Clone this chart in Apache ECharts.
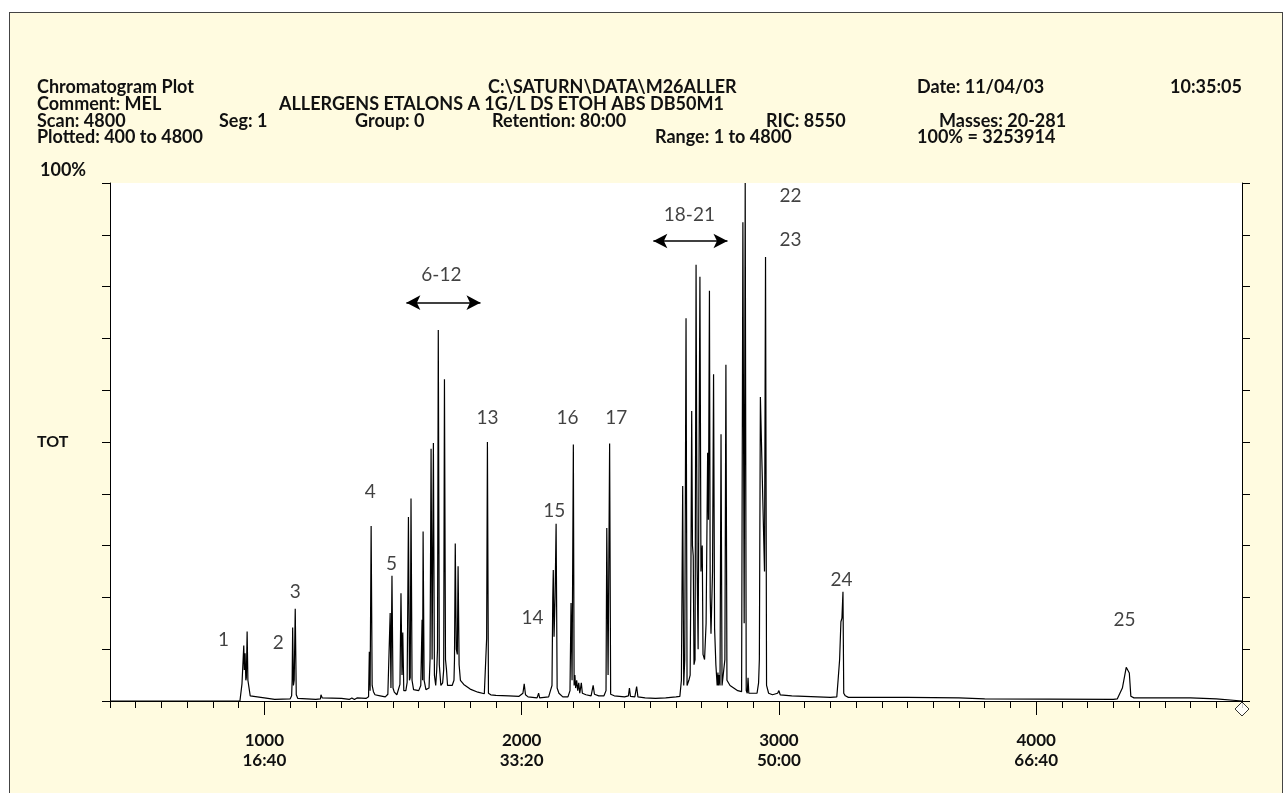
<!DOCTYPE html>
<html>
<head>
<meta charset="utf-8">
<script src="https://cdn.jsdelivr.net/npm/echarts@6/dist/echarts.min.js"></script>
<style>
  html, body { margin: 0; padding: 0; background: #ffffff; }
  #frame { position: absolute; left: 9px; top: 12px; width: 1272px; height: 800px;
           border: 1px solid #444; background: #fffbe0; }
  #chart { position: absolute; left: 0; top: 0; width: 1284px; height: 793px; }
</style>
</head>
<body>
<div id="frame"></div>
<div id="chart"></div>
<script>
// ---- Data (scan number vs. % of total ion current) ----
const scans = [400, 905, 912, 913, 918, 920, 922, 925, 928, 930, 933, 936, 941, 945, 950, 1000, 1040, 1100, 1106, 1108, 1110, 1113, 1116, 1120, 1124, 1130, 1200, 1218, 1220, 1225, 1300, 1330, 1340, 1350, 1360, 1395, 1405, 1408, 1411, 1415, 1419, 1424, 1430, 1450, 1470, 1480, 1487, 1489, 1492, 1496, 1500, 1505, 1515, 1522, 1527, 1531, 1535, 1538, 1542, 1550, 1555, 1560, 1564, 1567, 1570, 1574, 1580, 1600, 1608, 1613, 1615, 1617, 1621, 1628, 1640, 1644, 1648, 1652, 1655, 1657, 1661, 1666, 1670, 1673, 1676, 1680, 1686, 1693, 1697, 1700, 1704, 1708, 1712, 1730, 1737, 1739, 1742, 1746, 1750, 1753, 1757, 1762, 1775, 1800, 1830, 1855, 1862, 1864, 1867, 1871, 1880, 1900, 1950, 1990, 2005, 2010, 2015, 2025, 2060, 2066, 2070, 2105, 2112, 2118, 2121, 2123, 2126, 2130, 2134, 2138, 2145, 2160, 2180, 2188, 2192, 2196, 2201, 2204, 2207, 2210, 2214, 2218, 2222, 2226, 2232, 2236, 2250, 2270, 2278, 2283, 2300, 2320, 2328, 2331, 2336, 2342, 2346, 2360, 2400, 2415, 2419, 2423, 2440, 2447, 2452, 2480, 2520, 2560, 2600, 2615, 2621, 2626, 2630, 2634, 2639, 2643, 2650, 2655, 2658, 2661, 2664, 2667, 2670, 2674, 2678, 2682, 2686, 2693, 2697, 2702, 2705, 2711, 2717, 2723, 2726, 2730, 2733, 2736, 2742, 2746, 2750, 2755, 2760, 2763, 2765, 2768, 2771, 2775, 2779, 2786, 2790, 2794, 2798, 2810, 2840, 2855, 2860, 2865, 2869, 2873, 2877, 2880, 2883, 2888, 2892, 2915, 2921, 2924, 2928, 2944, 2948, 2952, 2960, 2975, 2995, 3000, 3005, 3050, 3100, 3150, 3200, 3225, 3230, 3236, 3241, 3245, 3249, 3252, 3258, 3270, 3500, 3700, 3800, 4300, 4315, 4335, 4350, 4362, 4368, 4380, 4600, 4700, 4800];
const tic = [0, 0, 0.3, 3.3, 3.6, 10.7, 6, 9.2, 4, 4.5, 13.4, 4, 3.8, 1, 0.7, 0.6, 0.3, 0.4, 1.0, 4, 14.2, 3, 4, 17.8, 1.2, 0.5, 0.3, 0.4, 1.2, 0.6, 0.5, 0.3, 0.6, 0.3, 0.6, 0.5, 0.8, 9.5, 2, 33.8, 3, 1.8, 1.2, 1.0, 0.8, 1.3, 1.5, 17, 2.5, 24.2, 2.5, 1.7, 1.2, 1.5, 3.2, 20.8, 5, 13.2, 2, 2, 3.6, 35.5, 4, 4.5, 39.1, 4, 2.2, 2.0, 3, 15.7, 4, 32.7, 4, 2.2, 2.5, 8, 48.7, 8, 8, 49.8, 5, 3, 6, 10, 71.6, 7, 3, 3.5, 6, 62.1, 8, 6, 3, 3, 4, 8, 30.4, 10, 9, 26, 7, 4, 3.2, 2.3, 1.7, 1.4, 1.5, 12.1, 50, 1.5, 1.2, 1.1, 1.0, 0.9, 1.5, 3.3, 1.2, 0.8, 0.6, 1.5, 0.6, 0.8, 2.0, 3, 20, 25.3, 12.4, 20, 34.2, 2.5, 1.5, 0.8, 0.8, 2, 18.9, 4, 49.5, 3, 5, 2.5, 4, 2, 3.5, 1.5, 3.5, 1.5, 1.2, 1, 3, 1.3, 1.0, 1.0, 2, 33.4, 5, 49.7, 1.3, 1.0, 0.8, 1, 2.5, 0.9, 0.8, 2.8, 0.8, 0.6, 0.5, 0.6, 0.8, 0.9, 4, 41.5, 3, 8, 73.9, 3, 4, 5, 25, 56, 30, 28, 7, 8, 84.2, 26, 10, 81.9, 25, 30, 9, 8, 15, 47.9, 35, 79.2, 20, 13, 25, 63.1, 14, 7, 3, 5.5, 3, 5, 3, 51.5, 3, 3, 8, 64.9, 4, 3, 2, 1.8, 92.4, 15, 100, 2, 1.5, 4.5, 1.5, 1.8, 1.5, 1.5, 3.5, 8, 58.7, 25, 85.7, 3, 1.5, 1.2, 1.5, 2, 1.2, 1.0, 0.9, 0.8, 0.7, 0.8, 4, 8, 15.3, 16, 21.1, 1.5, 1, 0.7, 0.7, 0.6, 0.4, 0.3, 0.4, 2.5, 6.5, 5.4, 0.9, 0.6, 0.6, 0.4, 0];

// Peak labels
const peakText = ['1', '2', '3', '4', '5', '6-12', '13', '14', '15', '16', '17', '18-21', '22', '23', '24', '25'];
const peakScan = [841, 1054, 1120, 1412, 1494, 1688, 1867, 2042, 2127, 2178, 2368, 2652, 3045, 3045, 3243, 4343];
const peakPct  = [11.8, 11.2, 21.1, 40.4, 26.5, 82.2, 54.7, 16.1, 36.8, 54.7, 54.7, 93.8, 97.5, 89.0, 23.4, 15.7];

// Group arrows [startScan, endScan, pct]
const arrowStart = [1552, 2512];
const arrowEnd   = [1840, 2800];
const arrowPct   = [76.9, 88.8];

// X axis labels
const xMajor = [1000, 2000, 3000, 4000];
const xTimes = ['16:40', '33:20', '50:00', '66:40'];

// Header texts
const header = [
  ['Chromatogram Plot', 37, 87], ['C:\\SATURN\\DATA\\M26ALLER', 488, 87], ['Date: 11/04/03', 917, 87], ['10:35:05', 1170, 87],
  ['Comment: MEL', 37, 104], ['ALLERGENS ETALONS A 1G/L DS ETOH ABS DB50M1', 279, 104],
  ['Scan: 4800', 37, 121], ['Seg: 1', 219, 121], ['Group: 0', 355, 121], ['Retention: 80:00', 492, 121], ['RIC: 8550', 766, 121], ['Masses: 20-281', 939, 121],
  ['Plotted: 400 to 4800', 37, 137], ['Range: 1 to 4800', 655, 137], ['100% = 3253914', 917, 137],
  ['100%', 40, 170]
];

const FONT = 'Lato, "Open Sans", sans-serif';
const chart = echarts.init(document.getElementById('chart'));
const trace = scans.map((s, i) => [s, tic[i]]);

chart.setOption({
  animation: false,
  backgroundColor: 'transparent',
  textStyle: { fontFamily: FONT },
  grid: { left: 110, right: 42, top: 183, bottom: 92, show: true, backgroundColor: '#ffffff', borderWidth: 0 },
  xAxis: [
    { type: 'value', min: 400, max: 4800, interval: 100,
      axisLine: { show: true, lineStyle: { color: '#000', width: 1 } },
      axisTick: { show: true, length: 7, lineStyle: { color: '#000', width: 1 } },
      axisLabel: { show: false }, splitLine: { show: false } },
    { type: 'value', min: 400, max: 4800, position: 'bottom', gridIndex: 0,
      axisLine: { show: false },
      axisTick: { show: true, length: 14, customValues: xMajor, lineStyle: { color: '#000', width: 1 } },
      axisLabel: { show: true, customValues: xMajor, margin: 30, fontSize: 17, fontWeight: 'bold', color: '#111',
        lineHeight: 20, fontFamily: FONT,
        formatter: v => v + '\n' + xTimes[xMajor.indexOf(v)] },
      splitLine: { show: false } }
  ],
  yAxis: [
    { type: 'value', min: 0, max: 100, interval: 10, position: 'left',
      axisLine: { show: true, lineStyle: { color: '#000', width: 1 } },
      axisTick: { show: true, length: 8, lineStyle: { color: '#000', width: 1 } },
      axisLabel: { show: true, margin: 73, align: 'left', fontSize: 16, fontWeight: 'bold', color: '#111', fontFamily: FONT,
        formatter: v => (v === 50 ? 'TOT' : '') },
      splitLine: { show: false } },
    { type: 'value', min: 0, max: 100, interval: 10, position: 'right',
      axisLine: { show: true, lineStyle: { color: '#000', width: 1 } },
      axisTick: { show: true, length: 8, lineStyle: { color: '#000', width: 1 } },
      axisLabel: { show: false }, splitLine: { show: false } }
  ],
  series: [
    { type: 'line', xAxisIndex: 0, yAxisIndex: 0, data: trace, showSymbol: false, symbol: 'none',
      lineStyle: { color: '#000', width: 1.2 }, sampling: false, silent: true, z: 3 },
    { type: 'scatter', xAxisIndex: 0, yAxisIndex: 0, symbolSize: 1, silent: true,
      itemStyle: { color: 'rgba(0,0,0,0)' },
      data: peakText.map((t, i) => ({ name: t, value: [peakScan[i], peakPct[i]] })),
      label: { show: true, position: 'inside', formatter: p => p.name, fontSize: 19, color: '#111', fontFamily: FONT },
      markLine: { silent: true, symbol: ['arrow', 'arrow'], symbolSize: [11, 14],
        lineStyle: { color: '#000', width: 1.5, type: 'solid' }, label: { show: false },
        data: arrowStart.map((s, i) => [{ coord: [s, arrowPct[i]] }, { coord: [arrowEnd[i], arrowPct[i]] }]) },
      z: 4 },
    { type: 'scatter', xAxisIndex: 0, yAxisIndex: 0, clip: false, silent: true, symbol: 'diamond',
      symbolSize: 14, symbolOffset: [0, 8], data: [[4800, 0]],
      itemStyle: { color: '#ffffff', borderColor: '#000', borderWidth: 1 }, z: 5 }
  ],
  graphic: header.map(h => ({ type: 'text', left: h[1], top: h[2] - 9, silent: true,
    style: { text: h[0], fontSize: 18, fontWeight: 'bold', fill: '#111', fontFamily: FONT } }))
});
</script>
</body>
</html>
